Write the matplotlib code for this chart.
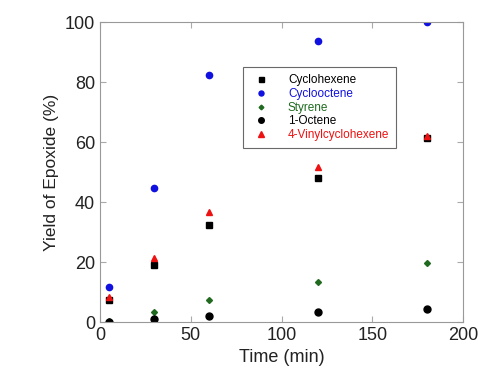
import matplotlib.pyplot as plt

plt.rcParams['font.family'] = ['Liberation Sans', 'DejaVu Sans']

time_min = [5, 30, 60, 120, 180]
cyclohexene = [7.3, 19, 32.3, 48, 61.3]
cyclooctene = [11.7, 44.7, 82.3, 93.7, 100]
styrene = [0.4, 3.3, 7.2, 13.3, 19.6]
octene = [0, 1, 2, 3.5, 4.5]
vinylcyclohexene = [8.2, 21.4, 36.8, 51.8, 62]

fig = plt.figure(figsize=(4.78, 3.74), dpi=100)
ax = fig.add_axes([0.209, 0.139, 0.76, 0.802])

ax.plot(time_min, cyclohexene, 's', color='black', ms=4.5, label='Cyclohexene')
ax.plot(time_min, cyclooctene, 'o', color='#1010e0', ms=4.5, label='Cyclooctene')
ax.plot(time_min, styrene, 'D', color='#1f6a1f', ms=3, label='Styrene')
ax.plot(time_min, octene, 'o', color='black', ms=5, label='1-Octene')
ax.plot(time_min, vinylcyclohexene, '^', color='#ee1111', ms=5, label='4-Vinylcyclohexene')

ax.set_xlim(0, 200)
ax.set_ylim(0, 100)
ax.set_xticks([0, 50, 100, 150, 200])
ax.set_yticks([0, 20, 40, 60, 80, 100])
ax.tick_params(direction='in', top=True, right=True, length=4, color='#aaaaaa',
               labelsize=13, labelcolor='#222222')
for s in ax.spines.values():
    s.set_color('#999999')
    s.set_linewidth(0.8)

ax.set_xlabel('Time (min)', fontsize=13, color='#222222')
ax.set_ylabel('Yield of Epoxide (%)', fontsize=12.5, color='#222222')

leg = ax.legend(loc='upper left', bbox_to_anchor=(0.394, 0.85), borderaxespad=0,
                fontsize=8.5, fancybox=False, edgecolor='#444444', handletextpad=1.3,
                labelspacing=0.15, borderpad=0.6, handlelength=1.9, markerscale=0.8)
leg.get_frame().set_linewidth(0.8)
for txt, c in zip(leg.get_texts(), ['black', '#1010e0', '#1f6a1f', 'black', '#ee1111']):
    txt.set_color(c)

fig.savefig('out.png', dpi=100)
